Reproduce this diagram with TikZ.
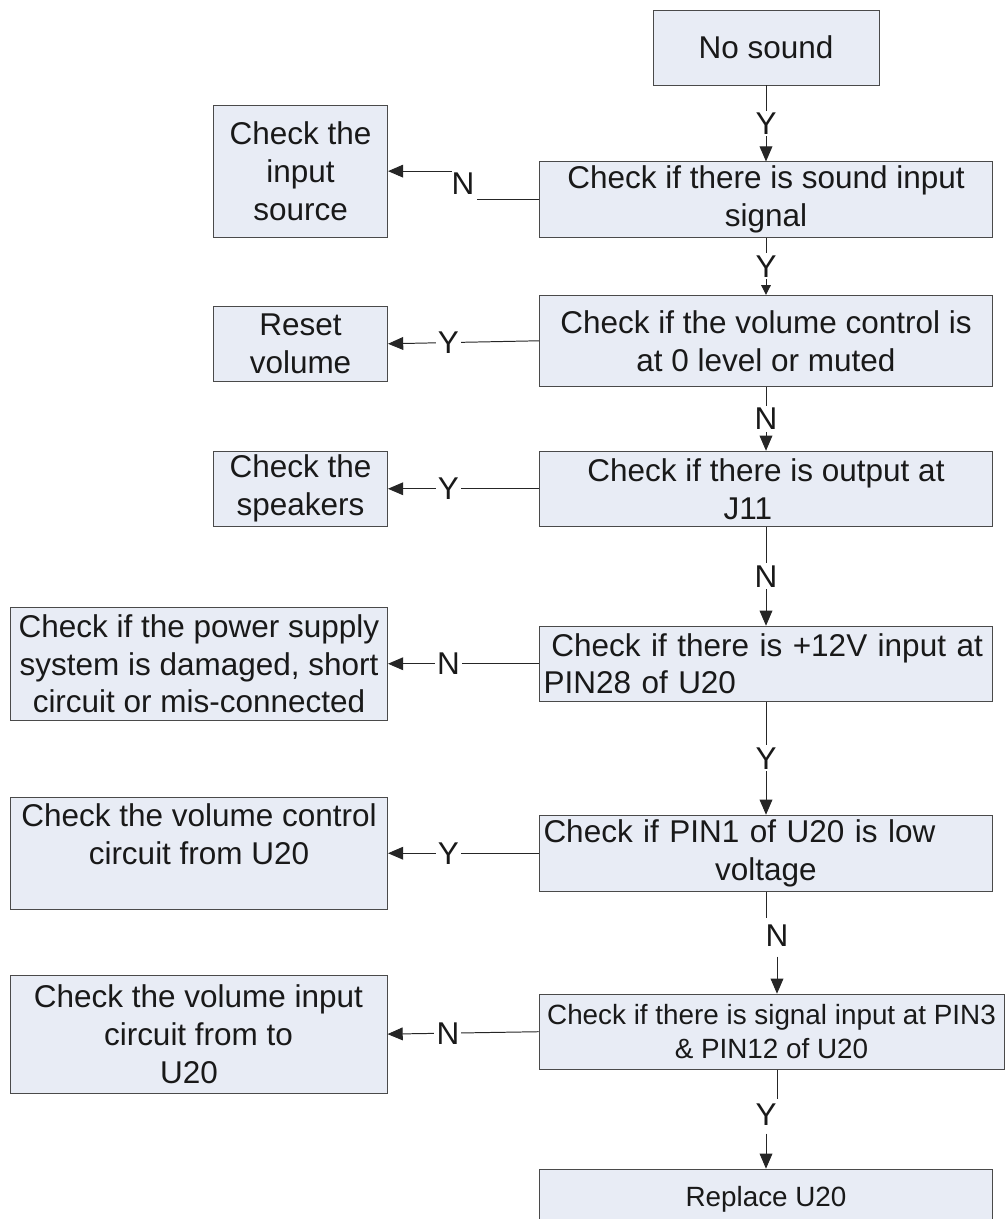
\documentclass[tikz,border=0pt]{standalone}
\usepackage{fontspec}
\setmainfont{Liberation Sans}
\usetikzlibrary{positioning, arrows.meta, calc}
\definecolor{boxfill}{HTML}{E8ECF5}
\definecolor{boxline}{HTML}{4A4A4A}
\newcommand{\fbig}{\fontsize{22.4}{27}\selectfont}
\newcommand{\fsmall}{\fontsize{19.8}{24.2}\selectfont}

\begin{document}
\begin{tikzpicture}[
    b/.style={draw=boxline, fill=boxfill, text=black!90, font=\fbig, line width=0.7pt, minimum width=11.325cm, minimum height=1.875cm, inner sep=0.1cm, align=center},
    l/.style={fill=white, inner sep=1.5pt, text=black!90, font=\fbig},
    ln/.style={line width=0.7pt, color=black!85},
    arr/.style={ln, -{Triangle[length=0.38cm,width=0.32cm]}}]
  \useasboundingbox (0,0) rectangle (25.1,-30.475);
  % main column
  \node[b, minimum width=5.65cm] (nosound) at (19.15,-1.1875) {No sound};
  \node[b, below=1.9cm of nosound] (q1) {Check if there is sound input\\signal};
  \node[b, minimum height=2.275cm, below=1.425cm of q1] (q2) {Check if the volume control is\\at 0 level or muted};
  \node[b, below=1.6cm of q2] (q3) {Check if there is output at\\J11\hspace*{1.15em}};
  \node[b, text width=11.125cm, align=left, below=2.475cm of q3] (q4) {\hspace*{0.25em}Check if there is +12V input at\\PIN28 of U20};
  \node[b, text width=11.125cm, minimum height=1.9cm, below=2.825cm of q4] (q5) {\makebox[11.125cm][l]{Check if PIN1 of U20 is low}\\voltage};
  \node[b, font=\fsmall, minimum width=11.625cm, below=2.55cm of q5, xshift=0.1375cm] (q6) {Check if there is signal input at PIN3\\\& PIN12 of U20};
  \node[b, font=\fsmall, minimum height=1.5cm, below=2.475cm of q6, xshift=-0.1375cm] (fix) {Replace U20};
  % side boxes
  \node[b, minimum width=4.35cm, minimum height=3.3cm, left=3.775cm of q1, yshift=0.7125cm] (src) {Check the\\input\\source};
  \node[b, minimum width=4.35cm, left=3.775cm of q2, yshift=-0.075cm] (reset) {Reset\\volume};
  \node[b, minimum width=4.35cm, left=3.775cm of q3] (spk) {Check the\\speakers};
  \node[b, minimum width=9.425cm, minimum height=2.825cm, left=3.775cm of q4] (pwr) {Check if the power supply\\system is damaged, short\\circuit or mis-connected};
  \node[b, minimum width=9.425cm, minimum height=2.8cm, left=3.775cm of q5] (volctl) {Check the volume control\\circuit from U20\hspace*{2.1em}\\\mbox{}};
  \node[b, minimum width=9.425cm, minimum height=2.95cm, left=3.775cm of q6, yshift=-0.06cm] (volin) {Check the volume input\\circuit from to\hspace*{1.8em}\\U20\hspace*{0.6em}};
  % free ends
  \coordinate (j1) at ($(q1.west)+(-1.55,0)$);
  \coordinate (k1) at ($(src.east)+(1.6,0)$);
  \coordinate (t5) at ($(q5.south)+(0,-0.65)$);
  \coordinate (t6) at ($(q6.north)+(0.1375,0.925)$);
  \coordinate (t7) at ($(q6.south)+(0.1375,0)$);
  \coordinate (u7) at ($(t7)+(0,-0.725)$);
  \coordinate (v7) at ($(fix.north)+(0,0.875)$);
  % down the column
  \draw[arr] (nosound) -- node[l]{Y} (q1);
  \draw[ln, -{Triangle[length=0.24cm,width=0.24cm]}] (q1) -- node[l]{Y} (q2);
  \draw[arr] (q2) -- node[l]{N} (q3);
  \draw[arr] (q3) -- node[l]{N} (q4);
  \draw[arr] (q4) -- node[l]{Y} (q5);
  \draw[ln] (q5.south) -- (t5);
  \node[l] at ($(t6)+(0,0.525)$) {N};
  \draw[arr] (t6) -- (t6 |- q6.north);
  \draw[ln] (t7) -- (u7);
  \node[l] at ($(fix.north)+(0,1.35)$) {Y};
  \draw[arr] (v7) -- (fix.north);
  % to the side
  \draw[ln] (q1.west) -- (j1);
  \node[l, fill=none] at ($(src.east)+(1.875,-0.325)$) {N};
  \draw[arr] (k1) -- (src.east);
  \draw[arr] (q2.west) -- node[l, pos=0.6]{Y} (reset.east);
  \draw[arr] (q3.west) -- node[l, pos=0.6]{Y} (spk.east);
  \draw[arr] (q4.west) -- node[l, pos=0.6]{N} (pwr.east);
  \draw[arr] (q5.west) -- node[l, pos=0.6]{Y} (volctl.east);
  \draw[arr] (q6.west) -- node[l, pos=0.6]{N} (volin.east);
\end{tikzpicture}
\end{document}
